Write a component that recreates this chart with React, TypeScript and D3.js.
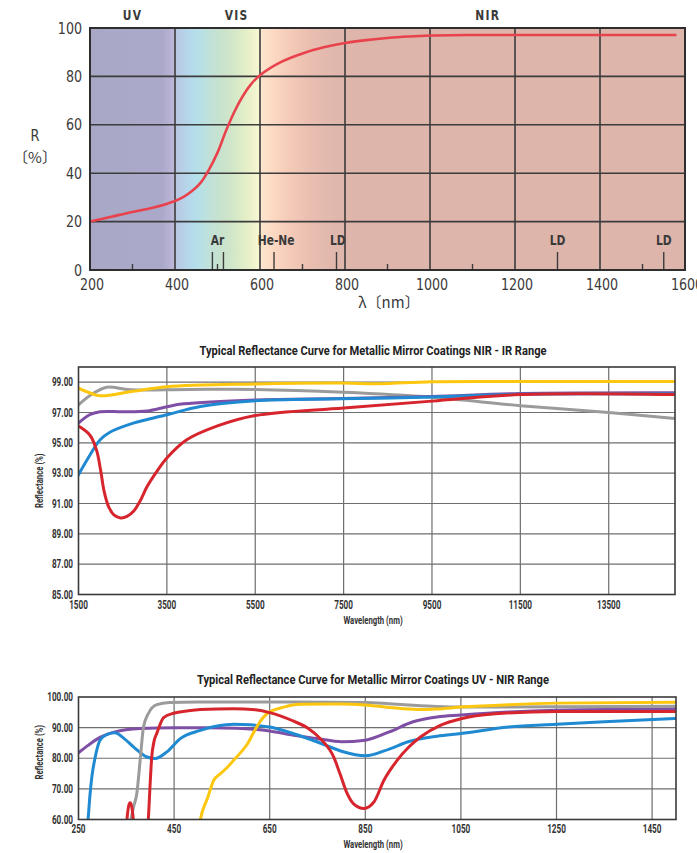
import React from "react";
import * as d3 from "d3";

// ---------- Panel 1: reflectance of a coating (spectrum background) ----------
const p1Wavelength = [200, 250, 300, 350, 400, 420, 440, 460, 480, 500, 520, 540, 560, 580, 600, 650, 700, 750, 800, 850, 900, 950, 1000, 1100, 1200, 1400, 1580];
const p1Reflectance = [20, 22, 24, 25.8, 28.5, 30.2, 32.6, 36, 41.5, 48.5, 57.5, 65.5, 72, 77, 80.5, 86, 89.5, 92, 93.8, 95, 95.9, 96.5, 96.9, 97.1, 97.1, 97.1, 97.1];
const p1XTicks = [200, 400, 600, 800, 1000, 1200, 1400, 1600];
const p1YTicks = [0, 20, 40, 60, 80, 100];
const p1Regions = [
  { label: "UV", at: 300 },
  { label: "VIS", at: 545 },
  { label: "NIR", at: 1136 },
];
const p1MinorTicks = [300, 500, 700, 900, 1100, 1500];
const p1LaserLines = [488, 514, 633, 780, 1300, 1550];
const p1LaserLabels = [
  { label: "Ar", at: 500 },
  { label: "He-Ne", at: 638 },
  { label: "LD", at: 783 },
  { label: "LD", at: 1300 },
  { label: "LD", at: 1550 },
];
const spectrumStops: [number, string][] = [
  [200, "#a8a8c6"], [370, "#aba9ca"], [396, "#bdb6d8"], [402, "#b9c8e2"], [430, "#b6d6ea"],
  [452, "#b4e0ea"], [480, "#c0e1da"], [510, "#c8e2cc"], [540, "#d4e8c8"], [570, "#e6efc8"],
  [596, "#f6f6d2"], [602, "#fde6cf"], [630, "#fcd9c3"], [670, "#f4cab8"], [720, "#e9beb1"],
  [780, "#e0b7ac"], [830, "#ddb5aa"], [1600, "#ddb5aa"],
];

// ---------- Panel 2: NIR - IR ----------
const p2Title = "Typical Reflectance Curve for Metallic Mirror Coatings NIR - IR Range";
const p2XTicks = [1500, 3500, 5500, 7500, 9500, 11500, 13500];
const p2YTicks = [85, 87, 89, 91, 93, 95, 97, 99];
const p2Gray = [[1500, 97.5], [1800, 98.2], [2140, 98.67], [2670, 98.5], [4000, 98.52], [5500, 98.52], [7500, 98.33], [9500, 98.0], [11500, 97.45], [13500, 97.0], [15000, 96.6]];
const p2Yellow = [[1500, 98.6], [1750, 98.3], [1990, 98.1], [2740, 98.4], [3500, 98.7], [5500, 98.88], [7400, 98.94], [8300, 98.9], [9500, 99.03], [12000, 99.04], [15000, 99.04]];
const p2Purple = [[1500, 96.3], [1750, 96.85], [1990, 97.05], [2500, 97.05], [3050, 97.1], [3500, 97.38], [3880, 97.57], [5500, 97.83], [7500, 97.92], [9500, 98.05], [11500, 98.25], [15000, 98.3]];
const p2Blue = [[1500, 92.9], [1760, 94.2], [1990, 95.2], [2210, 95.7], [2740, 96.3], [3500, 96.85], [4260, 97.4], [5500, 97.78], [7400, 97.9], [9500, 98.02], [11500, 98.2], [15000, 98.22]];
const p2Red = [[1500, 96.1], [1760, 95.5], [1910, 94.5], [2000, 93.2], [2080, 91.8], [2180, 90.8], [2300, 90.25], [2450, 90.05], [2600, 90.15], [2750, 90.5], [2900, 91.2], [3050, 92.1], [3270, 93.1], [3500, 94], [3950, 95.2], [4630, 96.1], [5500, 96.8], [7500, 97.3], [9500, 97.75], [11500, 98.18], [15000, 98.18]];

// ---------- Panel 3: UV - NIR ----------
const p3Title = "Typical Reflectance Curve for Metallic Mirror Coatings UV - NIR Range";
const p3XTicks = [250, 450, 650, 850, 1050, 1250, 1450];
const p3YTicks = [60, 70, 80, 90, 100];
const p3Purple = [[250, 81.8], [270, 84.2], [295, 86.8], [326, 88.6], [379, 89.7], [450, 90], [520, 90], [580, 89.8], [650, 88.9], [700, 87.5], [750, 86.4], [800, 85.4], [850, 85.9], [900, 88.6], [950, 91.9], [1000, 93.5], [1050, 94.1], [1150, 95.1], [1250, 95.7], [1500, 96.2]];
const p3Blue = [[267, 55], [270, 60], [274, 68], [278, 74], [285, 80.4], [295, 85.9], [310, 87.8], [326, 88.3], [345, 86.5], [365, 83.7], [393, 80.4], [410, 79.9], [435, 82.1], [463, 86.4], [505, 89.1], [540, 90.5], [575, 91.1], [610, 90.9], [650, 90.2], [700, 88], [750, 85.3], [800, 82.3], [850, 80.8], [900, 83], [938, 85.3], [1000, 87.2], [1050, 88.1], [1150, 90.2], [1250, 91.1], [1350, 91.9], [1500, 93]];
const p3Gray = [[356, 55], [360, 60], [365, 64], [372, 68.5], [379, 79.4], [386, 90.2], [396, 94.6], [414, 97.5], [440, 98.2], [500, 98.4], [700, 98.4], [850, 98.2], [900, 97.8], [950, 97.3], [1000, 96.9], [1050, 96.7], [1250, 96.8], [1500, 97]];
const p3Yellow = [[500, 55], [505, 60], [520, 67], [533, 72.8], [547, 75], [560, 76.8], [575, 79.4], [590, 82], [604, 84.8], [615, 88], [625, 90.8], [645, 94.6], [680, 96.7], [714, 97.6], [800, 97.7], [850, 97.4], [900, 96.6], [960, 95.9], [1000, 96.1], [1050, 96.7], [1150, 97.5], [1250, 98], [1500, 98.3]];
const p3RedBump = [[349, 55], [352, 61], [355, 64.5], [358, 65.5], [361, 64.5], [364, 61], [366, 56]];
const p3Red = [[393, 55], [396, 60], [400, 72], [403, 80], [408, 85.5], [414, 88.2], [428, 93.3], [449, 94.7], [480, 95.5], [505, 95.9], [574, 96.2], [620, 95.8], [650, 94.9], [700, 92.1], [730, 89.8], [756, 86.4], [784, 80.4], [798, 74.5], [812, 68.5], [825, 65.2], [847, 63.6], [868, 65.7], [889, 72.8], [917, 79.4], [940, 83.5], [966, 87], [1008, 90.8], [1050, 92.9], [1122, 94.5], [1250, 95.3], [1500, 95.3]];

const COLORS = { gray: "#9b9b9b", yellow: "#fdc70f", purple: "#7f4fa6", blue: "#1f8ad2", red: "#d6252d" };

const gothic = "'DejaVu Sans Condensed', 'DejaVu Sans', sans-serif";
const futura = "Roboto, 'DejaVu Sans', sans-serif";

type CTProps = { x: number; y: number; anchor?: "start" | "middle" | "end"; sx?: number; size: number; bold?: boolean; family?: string; fill?: string; rotate?: number; children: React.ReactNode; spacing?: number };
function CT({ x, y, anchor = "middle", sx = 1, size, bold = false, family = futura, fill = "#333", rotate = 0, children, spacing }: CTProps) {
  return (
    <text
      transform={`translate(${x},${y}) rotate(${rotate}) scale(${sx},1)`}
      textAnchor={anchor}
      fontFamily={family}
      fontWeight={bold ? "bold" : "normal"}
      fontSize={size}
      fill={fill}
      letterSpacing={spacing}
    >
      {children}
    </text>
  );
}

export default function App() {
  const x1 = d3.scaleLinear().domain([200, 1600]).range([90, 685]);
  const y1 = d3.scaleLinear().domain([0, 100]).range([270, 28]);
  const x2 = d3.scaleLinear().domain([1500, 15000]).range([78.5, 675]);
  const y2 = d3.scaleLinear().domain([85, 100]).range([594.5, 367]);
  const x3 = d3.scaleLinear().domain([250, 1500]).range([78.5, 676]);
  const y3 = d3.scaleLinear().domain([60, 100]).range([819.5, 697]);

  const line1 = d3.line<number>().x((_, i) => x1(p1Wavelength[i])).y((d) => y1(d)).curve(d3.curveCatmullRom.alpha(0.5));
  const line2 = d3.line<number[]>().x((d) => x2(d[0])).y((d) => y2(d[1])).curve(d3.curveCatmullRom.alpha(0.5));
  const line3 = d3.line<number[]>().x((d) => x3(d[0])).y((d) => y3(d[1])).curve(d3.curveMonotoneX);

  const [p1L, p1R] = x1.range();
  const [p1B, p1T] = y1.range();
  const [p2L, p2R] = x2.range();
  const [p2B, p2T] = y2.range();
  const [p3L, p3R] = x3.range();
  const [p3B, p3T] = y3.range();

  const p2Series: [number[][], string][] = [
    [p2Gray, COLORS.gray], [p2Purple, COLORS.purple], [p2Blue, COLORS.blue], [p2Red, COLORS.red], [p2Yellow, COLORS.yellow],
  ];
  const p3Series: [number[][], string][] = [
    [p3Purple, COLORS.purple], [p3Blue, COLORS.blue], [p3Gray, COLORS.gray], [p3Yellow, COLORS.yellow], [p3RedBump, COLORS.red], [p3Red, COLORS.red],
  ];

  const txt = "#3a3a3a";
  const gridDark = "#3c3c3c";

  return (
    <svg width={697} height={853} style={{ position: "absolute", left: 0, top: 0, background: "#fff" }}>
      <defs>
        <linearGradient id="spec" gradientUnits="userSpaceOnUse" x1={x1(200)} x2={x1(1600)} y1={0} y2={0}>
          {spectrumStops.map(([w, c], i) => (
            <stop key={i} offset={(w - 200) / 1400} stopColor={c} />
          ))}
        </linearGradient>
        <clipPath id="clip2">
          <rect x={p2L} y={p2T} width={p2R - p2L} height={p2B - p2T} />
        </clipPath>
        <clipPath id="clip3">
          <rect x={p3L} y={p3T} width={p3R - p3L} height={p3B - p3T} />
        </clipPath>
      </defs>

      {/* ---------------- Panel 1 ---------------- */}
      <rect x={p1L} y={p1T} width={p1R - p1L} height={p1B - p1T} fill="url(#spec)" />
      {p1YTicks.filter((t) => t > 0 && t < 100).map((t) => (
        <line key={"h" + t} x1={p1L} x2={p1R} y1={y1(t)} y2={y1(t)} stroke={gridDark} strokeWidth={1.6} />
      ))}
      {p1XTicks.filter((t) => t > 200 && t < 1600).map((t) => (
        <line key={"v" + t} x1={x1(t)} x2={x1(t)} y1={p1T} y2={p1B} stroke={gridDark} strokeWidth={1.6} />
      ))}
      {p1MinorTicks.map((t) => (
        <line key={"m" + t} x1={x1(t)} x2={x1(t)} y1={p1B - 6} y2={p1B} stroke={gridDark} strokeWidth={1.4} />
      ))}
      {p1LaserLines.map((t) => (
        <line key={"l" + t} x1={x1(t)} x2={x1(t)} y1={p1B - 18} y2={p1B} stroke={gridDark} strokeWidth={1.4} />
      ))}
      {p1LaserLabels.map((l, i) => (
        <CT key={"ll" + i} x={x1(l.at)} y={245} size={14} sx={0.85} family={gothic} bold fill={txt}>
          {l.label}
        </CT>
      ))}
      <path d={line1(p1Reflectance) || ""} fill="none" stroke="#e8424c" strokeWidth={2.6} />
      <rect x={p1L} y={p1T} width={p1R - p1L} height={p1B - p1T} fill="none" stroke="#2e2e2e" strokeWidth={2} />
      {p1YTicks.map((t) => (
        <CT key={"yt" + t} x={82} y={y1(t) + 5.5} anchor="end" size={16} sx={0.88} family={gothic} fill={txt}>
          {t}
        </CT>
      ))}
      {p1XTicks.map((t) => (
        <CT key={"xt" + t} x={x1(t) + 2} y={290} size={16} sx={0.88} family={gothic} fill={txt}>
          {t}
        </CT>
      ))}
      {p1Regions.map((r) => (
        <CT key={r.label} x={x1(r.at)} y={20} size={14} sx={0.85} family={gothic} bold fill={txt} spacing={1.5}>
          {r.label}
        </CT>
      ))}
      <CT x={35} y={141} size={16} sx={0.9} family={gothic} fill={txt}>R</CT>
      <CT x={35} y={163} size={15} family="'Noto Sans CJK JP', sans-serif" fill={txt}>〔%〕</CT>
      <CT x={389} y={308} size={15} family="'Noto Sans CJK JP', sans-serif" fill={txt}>λ〔nm〕</CT>

      {/* ---------------- Panel 2 ---------------- */}
      <text x={373} y={355} textAnchor="middle" fontFamily={futura} fontWeight="bold" fontSize={12.5} fill="#222" textLength={347} lengthAdjust="spacingAndGlyphs">
        {p2Title}
      </text>
      {p2YTicks.filter((t) => t > 85).map((t) => (
        <line key={"h2" + t} x1={p2L} x2={p2R} y1={y2(t)} y2={y2(t)} stroke="#6e6e6e" strokeWidth={1.2} />
      ))}
      {p2XTicks.filter((t) => t > 1500).map((t) => (
        <line key={"v2" + t} x1={x2(t)} x2={x2(t)} y1={p2T} y2={p2B} stroke="#6e6e6e" strokeWidth={1.2} />
      ))}
      <g clipPath="url(#clip2)">
        {p2Series.map(([d, c], i) => (
          <path key={"s2" + i} d={line2(d) || ""} fill="none" stroke={c} strokeWidth={3} strokeLinecap="round" />
        ))}
      </g>
      <rect x={p2L} y={p2T} width={p2R - p2L} height={p2B - p2T} fill="none" stroke="#3a3a3a" strokeWidth={1.6} />
      {p2YTicks.map((t) => (
        <CT key={"y2" + t} x={73} y={y2(t) + 4} anchor="end" size={12} sx={0.68} bold>
          {t.toFixed(2)}
        </CT>
      ))}
      {p2XTicks.map((t) => (
        <CT key={"x2" + t} x={x2(t)} y={609} size={12} sx={0.68} bold>
          {t}
        </CT>
      ))}
      <CT x={373} y={624} size={10.5} sx={0.74} bold>Wavelength (nm)</CT>
      <CT x={43} y={(p2T + p2B) / 2} size={10.5} sx={0.74} bold rotate={-90}>Reflectance (%)</CT>

      {/* ---------------- Panel 3 ---------------- */}
      <text x={373} y={684} textAnchor="middle" fontFamily={futura} fontWeight="bold" fontSize={12.5} fill="#222" textLength={352} lengthAdjust="spacingAndGlyphs">
        {p3Title}
      </text>
      {p3YTicks.filter((t) => t > 60 && t < 100).map((t) => (
        <line key={"h3" + t} x1={p3L} x2={p3R} y1={y3(t)} y2={y3(t)} stroke="#6e6e6e" strokeWidth={1.2} />
      ))}
      {p3XTicks.filter((t) => t > 250).map((t) => (
        <line key={"v3" + t} x1={x3(t)} x2={x3(t)} y1={p3T} y2={p3B} stroke="#6e6e6e" strokeWidth={1.2} />
      ))}
      <g clipPath="url(#clip3)">
        {p3Series.map(([d, c], i) => (
          <path key={"s3" + i} d={line3(d) || ""} fill="none" stroke={c} strokeWidth={3} strokeLinecap="round" />
        ))}
      </g>
      <rect x={p3L} y={p3T} width={p3R - p3L} height={p3B - p3T} fill="none" stroke="#3a3a3a" strokeWidth={1.6} />
      {p3YTicks.map((t) => (
        <CT key={"y3" + t} x={73} y={y3(t) + 4} anchor="end" size={12} sx={0.68} bold>
          {t.toFixed(2)}
        </CT>
      ))}
      {p3XTicks.map((t) => (
        <CT key={"x3" + t} x={x3(t)} y={833} size={12} sx={0.68} bold>
          {t}
        </CT>
      ))}
      <CT x={373} y={848} size={10.5} sx={0.74} bold>Wavelength (nm)</CT>
      <CT x={43} y={(p3T + p3B) / 2 - 6} size={10.5} sx={0.74} bold rotate={-90}>Reflectance (%)</CT>
    </svg>
  );
}
